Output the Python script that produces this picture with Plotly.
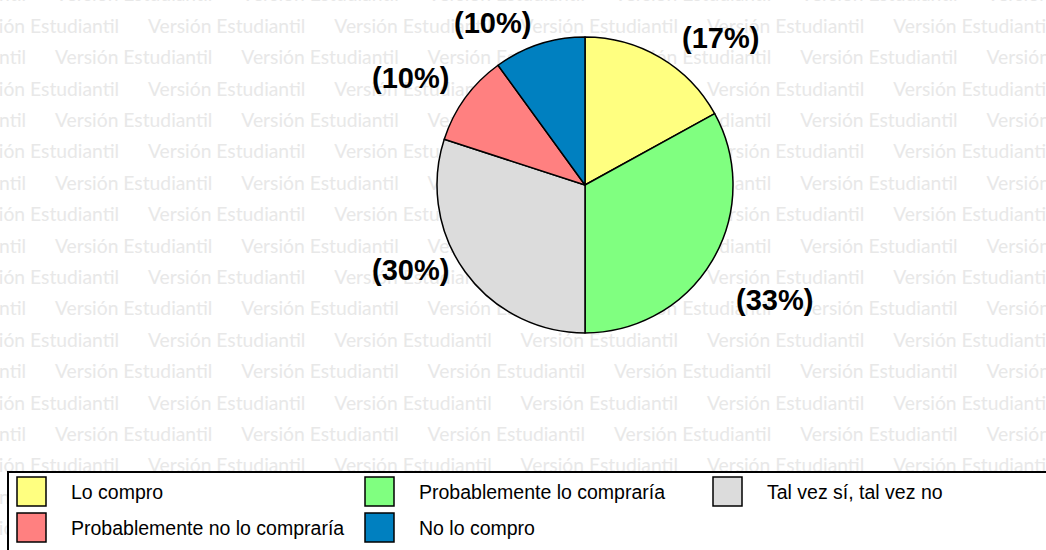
import plotly.graph_objects as go

# Survey answers: purchase intention
categories = [
    "Lo compro",
    "Probablemente lo compraría",
    "Tal vez sí, tal vez no",
    "Probablemente no lo compraría",
    "No lo compro",
]
values = [17, 33, 30, 10, 10]
colors = ["#FFFF80", "#80FF80", "#DCDCDC", "#FF8080", "#0080C0"]

W, H = 1046, 550

# Pie geometry in pixels
CX, CY, R = 585, 185, 148

# Label anchor points (pixels), one per slice, same order as categories
label_pos = [(720, 38), (774, 300), (410, 270), (410, 78), (492, 23)]

fig = go.Figure()

# Background watermark, drawn on a hidden pixel-space axis under the pie
wm_x, wm_y, wm_t = [], [], []
period, row_h = 186.3, 31.4
for k in range(-1, 18):
    y = 28 + row_h * k
    start = 148 if k % 2 == 0 else 55
    for j in range(-1, 7):
        wm_x.append(start + period * j)
        wm_y.append(y)
        wm_t.append("Versión Estudiantil")
fig.add_trace(go.Scatter(
    x=wm_x, y=wm_y, text=wm_t, mode="text",
    textposition="middle right",
    textfont=dict(family="Lato", size=19.3, color="#e8e8e8"),
    hoverinfo="skip", showlegend=False,
))

fig.add_trace(go.Pie(
    labels=categories, values=values, sort=False,
    direction="clockwise", rotation=0,
    marker=dict(colors=colors, line=dict(color="black", width=1.5)),
    textinfo="none", hoverinfo="label+percent", showlegend=False,
    domain=dict(x=[(CX - R) / W, (CX + R) / W],
                y=[1 - (CY + R) / H, 1 - (CY - R) / H]),
))

shapes = []
annotations = []

# Percentage labels
total = sum(values)
for v, (lx, ly) in zip(values, label_pos):
    annotations.append(dict(
        x=lx, y=ly, xref="x", yref="y", showarrow=False,
        text="<b>(%d%%)</b>" % round(100 * v / total),
        font=dict(family="Liberation Sans", size=29, color="black"),
        xanchor="center", yanchor="middle",
    ))

# Legend box
shapes.append(dict(type="rect", xref="x", yref="y", x0=8, y0=472, x1=W + 10, y1=H + 10,
                   fillcolor="white", line=dict(color="black", width=2), layer="above"))
ncols = 3
for i, (name, col) in enumerate(zip(categories, colors)):
    c, r = i % ncols, i // ncols
    sx = 17 + 348 * c
    sy = 477 + 36 * r
    shapes.append(dict(type="rect", xref="x", yref="y", x0=sx, y0=sy, x1=sx + 29, y1=sy + 29,
                       fillcolor=col, line=dict(color="black", width=1.5), layer="above"))
    annotations.append(dict(
        x=sx + 52, y=sy + 15, xref="x", yref="y", showarrow=False,
        text=name, xanchor="left", yanchor="middle",
        font=dict(family="Liberation Sans", size=19.5, color="black"),
    ))

fig.update_layout(
    width=W, height=H,
    margin=dict(l=0, r=0, t=0, b=0),
    paper_bgcolor="white", plot_bgcolor="white",
    xaxis=dict(range=[0, W], visible=False, fixedrange=True),
    yaxis=dict(range=[H, 0], visible=False, fixedrange=True),
    shapes=shapes, annotations=annotations,
    showlegend=False,
)

fig.write_html("out.html")
